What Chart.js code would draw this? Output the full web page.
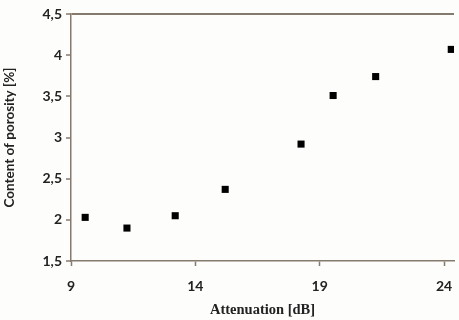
<!DOCTYPE html>
<html>
<head>
<meta charset="utf-8">
<script src="https://cdn.jsdelivr.net/npm/chart.js@4.4.1/dist/chart.umd.min.js"></script>
<style>
  html, body { margin: 0; padding: 0; background: #fdfdfb; }
  #wrap { width: 459px; height: 320px; }
</style>
</head>
<body>
<div id="wrap"><canvas id="porosityChart" width="459" height="320"></canvas></div>
<script>
// values
const attenuation = [9.57, 11.25, 13.19, 15.2, 18.25, 19.54, 21.25, 24.29];
const porosity = [2.03, 1.9, 2.05, 2.37, 2.92, 3.51, 3.74, 4.07];
const xTicks = [9, 14, 19, 24];
const yTicks = [1.5, 2, 2.5, 3, 3.5, 4, 4.5];

const axisColor = '#857a6e';
const textColor = '#222222';

const points = attenuation.map((x, i) => ({ x: x, y: porosity[i] }));

new Chart(document.getElementById('porosityChart').getContext('2d'), {
    type: 'scatter',
    data: {
        datasets: [{
            label: 'Porosity',
            data: points,
            pointStyle: 'rect',
            pointRadius: 5,
            pointHoverRadius: 5,
            backgroundColor: '#000000',
            borderColor: '#000000',
            borderWidth: 0
        }]
    },
    options: {
        responsive: false,
        animation: false,
        devicePixelRatio: 1,
        layout: { padding: { top: 14, right: 0, left: 0, bottom: 0 } },
        plugins: {
            legend: { display: false },
            tooltip: { enabled: false }
        },
        scales: {
            x: {
                type: 'linear',
                min: 9,
                max: 24.4,
                afterBuildTicks: (scale) => {
                    scale.ticks = xTicks.map(v => ({ value: v }));
                },
                afterFit: (scale) => {
                    scale.height = 59;
                    scale.paddingLeft = 0;
                    scale.paddingRight = 0;
                },
                border: { color: axisColor, width: 1.5 },
                grid: {
                    drawOnChartArea: false,
                    drawTicks: true,
                    tickLength: 5,
                    tickColor: axisColor,
                    tickWidth: 1.5
                },
                ticks: {
                    padding: 12,
                    color: textColor,
                    font: { family: 'Lato', size: 14, weight: 'bold' },
                    maxRotation: 0
                },
                title: {
                    display: true,
                    text: 'Attenuation [dB]',
                    color: textColor,
                    font: { family: 'Liberation Serif', size: 14.5, weight: 'bold' },
                    padding: { top: 0, bottom: 1 }
                }
            },
            y: {
                type: 'linear',
                min: 1.5,
                max: 4.5,
                afterBuildTicks: (scale) => {
                    scale.ticks = yTicks.map(v => ({ value: v }));
                },
                afterFit: (scale) => { scale.width = 71; },
                border: { color: axisColor, width: 1.5 },
                grid: {
                    color: (ctx) => (ctx.tick && ctx.tick.value === 4.5) ? axisColor : 'rgba(0,0,0,0)',
                    lineWidth: 2,
                    drawTicks: true,
                    tickLength: 5,
                    tickColor: axisColor,
                    tickWidth: 1.5
                },
                ticks: {
                    padding: 4,
                    color: textColor,
                    font: { family: 'Lato', size: 14, weight: 'bold' },
                    callback: (v) => String(v).replace('.', ',')
                },
                title: {
                    display: true,
                    text: 'Content of porosity [%]',
                    color: textColor,
                    font: { family: 'Lato', size: 13.5, weight: 'bold' },
                    padding: { top: 2, bottom: 0 }
                }
            }
        }
    }
});
</script>
</body>
</html>
